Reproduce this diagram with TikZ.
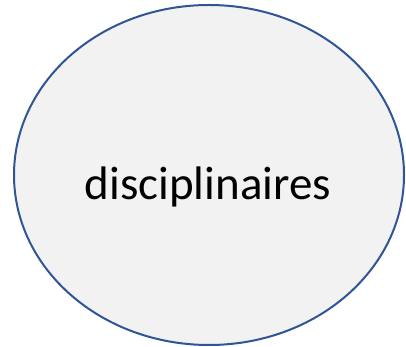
\documentclass[tikz,border=0pt]{standalone}
\usepackage{fontspec}
\setmainfont{Carlito}
\definecolor{ringblue}{HTML}{2F5597}
\definecolor{fillgray}{HTML}{F2F2F2}
\tikzset{ring/.style={draw=ringblue,fill=fillgray,line width=2pt},
  label/.style={font=\fontsize{47}{56}\selectfont,text=black,inner sep=0pt}}
\begin{document}
\begin{tikzpicture}[x=1pt,y=1pt]
\useasboundingbox (0,0) rectangle (406,347);
\draw[ring] (209,172) ellipse [x radius=195,y radius=170];
\node[label,anchor=base] (t) at (208,147) {disciplinaires};
\end{tikzpicture}
\end{document}
